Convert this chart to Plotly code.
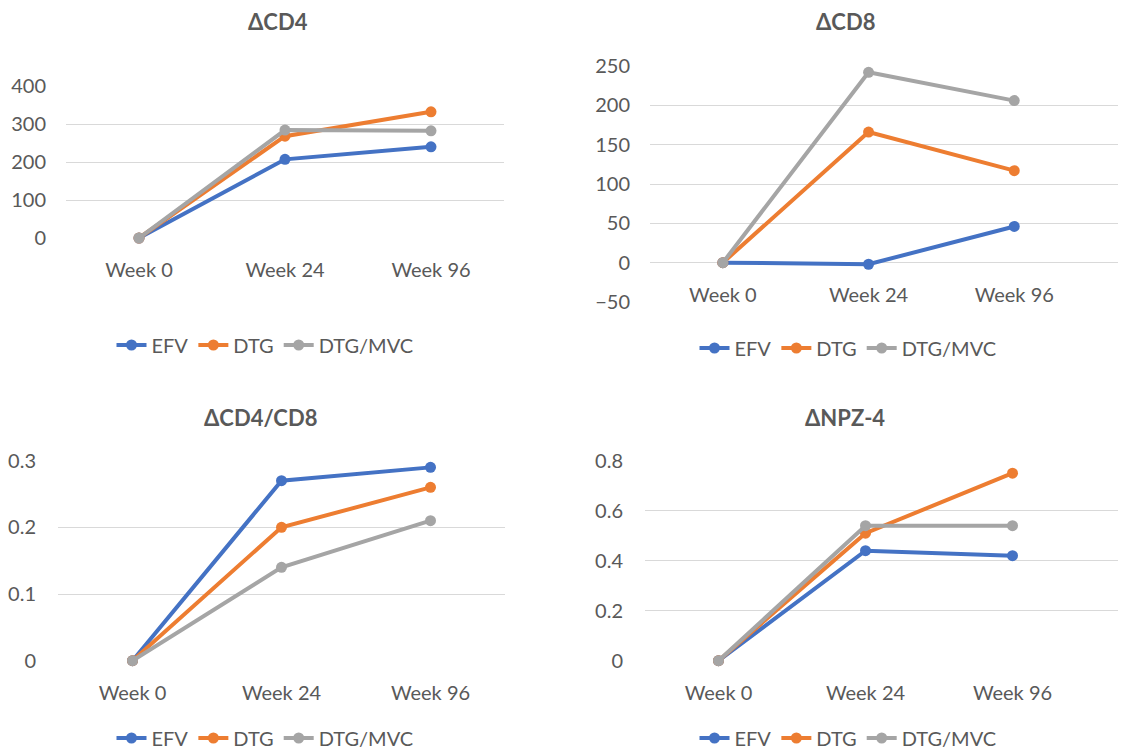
import plotly.graph_objects as go

weeks = ["Week 0", "Week 24", "Week 96"]
series_names = ["EFV", "DTG", "DTG/MVC"]
colors = ["#4472C4", "#ED7D31", "#A5A5A5"]

cd4_efv = [0, 207, 240]
cd4_dtg = [0, 268, 332]
cd4_mvc = [0, 284, 282]

cd8_efv = [0, -2, 46]
cd8_dtg = [0, 166, 117]
cd8_mvc = [0, 242, 206]

ratio_efv = [0, 0.27, 0.29]
ratio_dtg = [0, 0.20, 0.26]
ratio_mvc = [0, 0.14, 0.21]

npz_efv = [0, 0.44, 0.42]
npz_dtg = [0, 0.51, 0.75]
npz_mvc = [0, 0.54, 0.54]

titles = ["ΔCD4", "ΔCD8", "ΔCD4/CD8", "ΔNPZ-4"]
panels = [
    [cd4_efv, cd4_dtg, cd4_mvc],
    [cd8_efv, cd8_dtg, cd8_mvc],
    [ratio_efv, ratio_dtg, ratio_mvc],
    [npz_efv, npz_dtg, npz_mvc],
]

# page body has an 8px default margin, so the figure is 8px smaller
OFF = 8
W, H = 1126 - OFF, 751 - OFF
FONT = "Lato, 'Open Sans', sans-serif"
TXT = "#595959"
GRID = "#D9D9D9"

def px_x(v):
    return (v - OFF) / W

def px_y(v):
    return 1 - (v - OFF) / H

# layout geometry per panel (pixel positions in the screenshot)
geo = [
    dict(x0=66, x1=504, xr=[-0.5, 2.5], yt=86, yb=238, yr=[0, 400], dt=100, ax=238,
         title=(278, 22), leg=(265, 345), tl=15),
    dict(x0=650, x1=1126, xr=[-0.5, 2.767], yt=66, yb=302, yr=[-50, 250], dt=50, ax=262.7,
         title=(845, 22), leg=(848, 348), tl=15),
    dict(x0=58, x1=505, xr=[-0.5, 2.5], yt=460.7, yb=660.7, yr=[0, 0.3], dt=0.1, ax=660.7,
         title=(260, 417), leg=(265, 738), tl=17),
    dict(x0=645, x1=1126, xr=[-0.5, 2.772], yt=460.7, yb=660.7, yr=[0, 0.8], dt=0.2, ax=660.7,
         title=(845, 417), leg=(848, 738), tl=17),
]

fig = go.Figure()
layout = dict(
    width=W, height=H, margin=dict(l=0, r=0, t=0, b=0, autoexpand=False),
    paper_bgcolor="white", plot_bgcolor="white",
    font=dict(family=FONT, color=TXT, size=20),
    annotations=[],
)

for i, (g, data) in enumerate(zip(geo, panels)):
    n = "" if i == 0 else str(i + 1)
    leg = "legend" if i == 0 else f"legend{i + 1}"
    for name, vals, col in zip(series_names, data, colors):
        fig.add_trace(go.Scatter(
            x=weeks, y=vals, name=name, mode="lines+markers",
            line=dict(color=col, width=4),
            marker=dict(color=col, size=11),
            xaxis=f"x{n}", yaxis=f"y{n}", legend=leg, cliponaxis=False,
        ))
    xdom = [max(0, px_x(g["x0"])), min(1, px_x(g["x1"]))]
    ydom = [px_y(g["yb"]), px_y(g["yt"])]
    layout[f"xaxis{n}"] = dict(
        domain=xdom, range=g["xr"], type="category", showgrid=False, zeroline=False,
        showline=False, ticks="outside", ticklen=14, tickcolor="rgba(0,0,0,0)",
        anchor="free", position=px_y(g["ax"]), tickfont=dict(size=20, color=TXT),
    )
    layout[f"yaxis{n}"] = dict(
        domain=ydom, range=g["yr"], dtick=g["dt"], tick0=0, showgrid=True,
        gridcolor=GRID, gridwidth=1.3, zeroline=False, showline=False,
        ticks="outside", ticklen=g["tl"], tickcolor="rgba(0,0,0,0)",
        anchor=f"x{n}", tickfont=dict(size=20, color=TXT),
    )
    layout[leg] = dict(
        orientation="h", xref="paper", yref="paper",
        x=px_x(g["leg"][0]), y=px_y(g["leg"][1]), xanchor="center", yanchor="middle",
        font=dict(size=20, color=TXT, family=FONT), bgcolor="rgba(0,0,0,0)",
    )
    layout["annotations"].append(dict(
        text=f"<b>{titles[i]}</b>", xref="paper", yref="paper",
        x=px_x(g["title"][0]), y=px_y(g["title"][1]), xanchor="center", yanchor="middle",
        showarrow=False, font=dict(size=22, color=TXT, family=FONT),
    ))

fig.update_layout(**layout)
fig.write_html("out.html")
